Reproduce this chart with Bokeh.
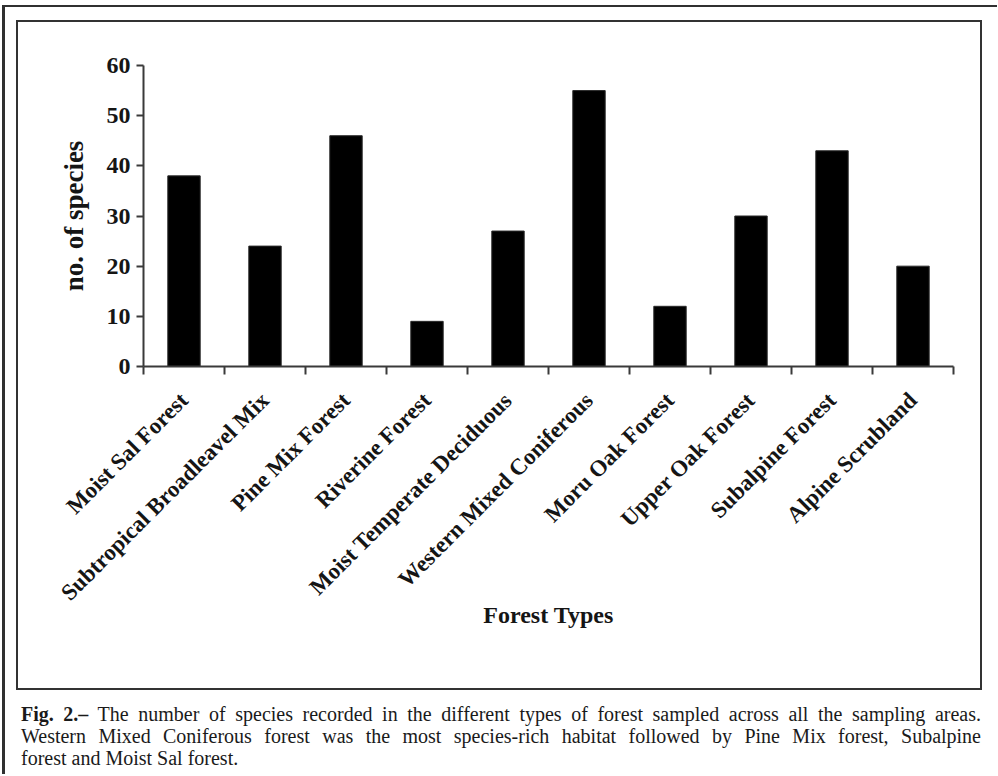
import math
from bokeh.plotting import figure
from bokeh.models import FixedTicker, Div, Column, Range1d
from bokeh.embed import file_html
from bokeh.resources import INLINE

forest_types = [
    "Moist Sal Forest", "Subtropical Broadleavel Mix", "Pine Mix Forest",
    "Riverine Forest", "Moist Temperate Deciduous", "Western Mixed Coniferous",
    "Moru Oak Forest", "Upper Oak Forest", "Subalpine Forest", "Alpine Scrubland",
]
species_counts = [38, 24, 46, 9, 27, 55, 12, 30, 43, 20]
y_ticks = [0, 10, 20, 30, 40, 50, 60]
x_title = "Forest Types"
y_title = "no. of species"
caption_lines = [
    "<b>Fig. 2.–</b> The number of species recorded in the different types of forest sampled across all the sampling areas.",
    "Western Mixed Coniferous forest was the most species-rich habitat followed by Pine Mix forest, Subalpine",
    "forest and Moist Sal forest.",
]

n = len(forest_types)
xs = list(range(n))
boundaries = [i - 0.5 for i in range(n + 1)]

FONT = "Liberation Serif"
INK = "#151515"
LINE = "#3a3a3a"

p = figure(
    width=962, height=666,
    x_range=Range1d(-0.5, n - 0.5), y_range=Range1d(0, 60),
    output_backend="svg", toolbar_location=None,
    min_border_left=125, min_border_right=27, min_border_top=43, min_border_bottom=322,
)
p.outline_line_color = None
p.grid.visible = False
p.background_fill_color = "white"
p.border_fill_color = "white"

p.vbar(x=xs, top=species_counts, width=0.4, fill_color="black", line_color="#2a2a2a", line_width=1)

xa = p.xaxis[0]
xa.ticker = FixedTicker(ticks=xs, minor_ticks=boundaries)
xa.major_label_overrides = {i: name for i, name in enumerate(forest_types)}
xa.major_label_orientation = math.pi / 4
xa.major_tick_out = 0
xa.major_tick_in = 0
xa.minor_tick_out = 8
xa.minor_tick_in = 0
xa.minor_tick_line_color = LINE
xa.minor_tick_line_width = 2
xa.axis_line_color = LINE
xa.axis_line_width = 2
xa.major_label_standoff = 22
xa.major_label_text_font = FONT
xa.major_label_text_font_style = "bold"
xa.major_label_text_font_size = "23px"
xa.major_label_text_color = INK
xa.axis_label = x_title
xa.axis_label_text_font = FONT
xa.axis_label_text_font_style = "bold"
xa.axis_label_text_font_size = "24px"
xa.axis_label_text_color = INK
xa.axis_label_standoff = -15

ya = p.yaxis[0]
ya.ticker = FixedTicker(ticks=y_ticks)
ya.major_tick_out = 7
ya.major_tick_in = 0
ya.minor_tick_out = 0
ya.minor_tick_in = 0
ya.major_tick_line_color = LINE
ya.major_tick_line_width = 2
ya.axis_line_color = LINE
ya.axis_line_width = 2
ya.major_label_standoff = 6
ya.major_label_text_font = FONT
ya.major_label_text_font_style = "bold"
ya.major_label_text_font_size = "24px"
ya.major_label_text_color = INK
ya.axis_label = y_title
ya.axis_label_text_font = FONT
ya.axis_label_text_font_style = "bold"
ya.axis_label_text_font_size = "27px"
ya.axis_label_text_color = INK
ya.axis_label_standoff = 15

inner = Column(
    children=[p],
    margin=(13, 15, 0, 11),
    styles={"border": "2px solid #333333", "background-color": "white"},
)

just = "text-align:justify;text-align-last:justify;white-space:nowrap;"
html = (
    f"<div style=\"width:960px;font-family:'{FONT}',serif;font-size:20px;line-height:22px;color:#1a1a1a;\">"
    f"<div style=\"{just}\">{caption_lines[0]}</div>"
    f"<div style=\"{just}\">{caption_lines[1]}</div>"
    f"<div style=\"text-align:left;\">{caption_lines[2]}</div>"
    "</div>"
)
caption = Div(text=html, width=960, margin=(13, 0, 0, 16))

framed = Column(
    children=[inner, caption],
    margin=(5, 0, 0, 2),
    styles={
        "border-left": "3px solid #303030",
        "border-top": "2px solid #303030",
        "background-color": "white",
        "padding-bottom": "4px",
    },
)

root = Column(children=[framed])

open("out.html", "w").write(file_html(root, INLINE))
